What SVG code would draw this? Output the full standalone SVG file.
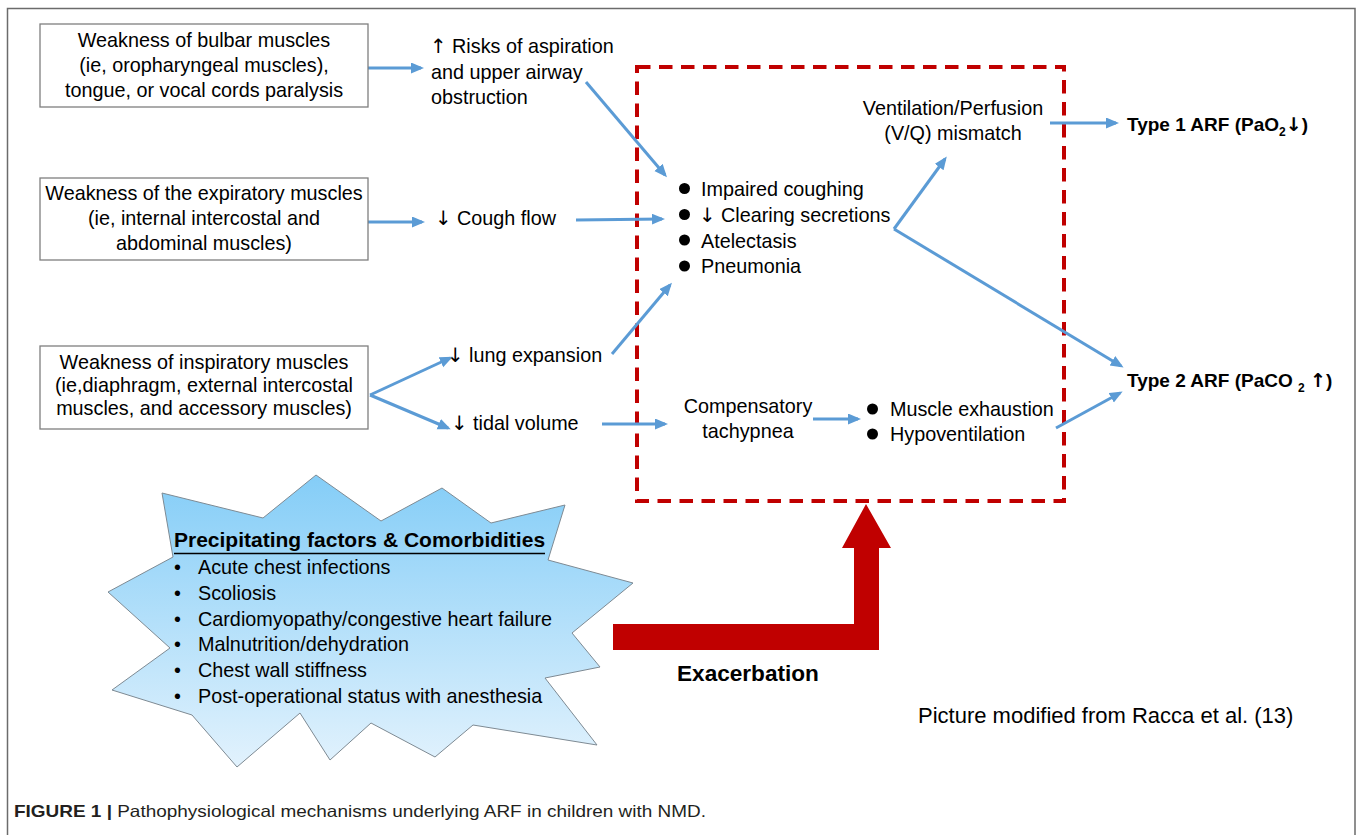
<svg xmlns="http://www.w3.org/2000/svg" width="1357" height="835" viewBox="0 0 1357 835">
<style>
text{font-family:"Liberation Sans",Arial,sans-serif;fill:#000}
.t{font-size:19.8px}
.c{text-anchor:middle}
.b{font-weight:bold}
.ar{font-family:"DejaVu Sans",sans-serif}
.box{fill:#fff;stroke:#7f7f7f;stroke-width:1.3}
.arr{fill:none;stroke:#5b9bd5;stroke-width:3;marker-end:url(#ah)}
</style>
<defs>
<marker id="ah" markerUnits="userSpaceOnUse" markerWidth="14" markerHeight="12" refX="10" refY="5.5" orient="auto">
<path d="M0,0 L13,5.5 L0,11 z" fill="#5b9bd5"/>
</marker>
<linearGradient id="sky" x1="0" y1="475" x2="0" y2="767" gradientUnits="userSpaceOnUse">
<stop offset="0" stop-color="#84cdf7"/>
<stop offset="1" stop-color="#e2f2fd"/>
</linearGradient>
</defs>
<rect width="1357" height="835" fill="#fff"/>
<path d="M7.5,840 V8.5 H1355 V840" fill="none" stroke="#6b6b6b" stroke-width="1.5"/>

<g id="exacerbation-box">
<rect x="637" y="67" width="427" height="434" fill="none" stroke="#c00000" stroke-width="4" stroke-dasharray="13.5 8.5"/>
</g>

<g id="connectors">
<line class="arr" x1="368" y1="68" x2="421" y2="68"/>
<line class="arr" x1="586" y1="82" x2="665" y2="175"/>
<line class="arr" x1="368" y1="222" x2="422" y2="222"/>
<line class="arr" x1="576" y1="220" x2="662" y2="219"/>
<line class="arr" x1="612" y1="354" x2="670" y2="285"/>
<line class="arr" x1="370" y1="395" x2="450" y2="358"/>
<line class="arr" x1="370" y1="395" x2="448" y2="428"/>
<line class="arr" x1="602" y1="424" x2="665" y2="424"/>
<line class="arr" x1="813" y1="419" x2="858" y2="419"/>
<line class="arr" x1="1056" y1="428" x2="1120" y2="393"/>
<line class="arr" x1="894" y1="229" x2="945" y2="159"/>
<line class="arr" x1="894" y1="229" x2="1121" y2="366"/>
<line class="arr" x1="1050" y1="123" x2="1116" y2="123"/>
</g>

<g id="bulbar">
<rect class="box" x="40" y="24" width="328" height="83"/>
<text class="t c" x="204" y="47">Weakness of bulbar muscles</text>
<text class="t c" x="204" y="72">(ie, oropharyngeal muscles),</text>
<text class="t c" x="204" y="97">tongue, or vocal cords paralysis</text>
</g>

<g id="expiratory">
<rect class="box" x="40" y="178" width="328" height="82"/>
<text class="t c" x="204" y="200">Weakness of the expiratory muscles</text>
<text class="t c" x="204" y="225">(ie, internal intercostal and</text>
<text class="t c" x="204" y="250">abdominal muscles)</text>
</g>

<g id="inspiratory">
<rect class="box" x="40" y="346" width="328" height="83"/>
<text class="t c" x="204" y="369">Weakness of inspiratory muscles</text>
<text class="t c" x="204" y="392">(ie,diaphragm, external intercostal</text>
<text class="t c" x="204" y="415">muscles, and accessory muscles)</text>
</g>

<g id="risks">
<text class="t" x="430" y="53"><tspan class="ar">↑</tspan> Risks of aspiration</text>
<text class="t" x="431" y="79">and upper airway</text>
<text class="t" x="431" y="104">obstruction</text>
</g>

<g id="cough">
<text class="t" x="435" y="225"><tspan class="ar">↓</tspan> Cough flow</text>
</g>

<g id="lung">
<text class="t" x="447" y="362"><tspan class="ar">↓</tspan> lung expansion</text>
</g>

<g id="tidal">
<text class="t" x="451" y="430"><tspan class="ar">↓</tspan> tidal volume</text>
</g>

<g id="airway-effects">
<circle cx="684.5" cy="188.5" r="5.5"/>
<circle cx="684.5" cy="214.5" r="5.5"/>
<circle cx="684.5" cy="240" r="5.5"/>
<circle cx="684.5" cy="266" r="5.5"/>
<text class="t" x="701" y="196">Impaired coughing</text>
<text class="t" x="699" y="222"><tspan class="ar">↓</tspan> Clearing secretions</text>
<text class="t" x="701" y="247.5">Atelectasis</text>
<text class="t" x="701" y="273">Pneumonia</text>
</g>

<g id="vq">
<text class="t c" x="953" y="115">Ventilation/Perfusion</text>
<text class="t c" x="953" y="140">(V/Q) mismatch</text>
</g>

<g id="tachypnea">
<text class="t c" x="748" y="413">Compensatory</text>
<text class="t c" x="748" y="438">tachypnea</text>
</g>

<g id="exhaustion">
<circle cx="872.5" cy="409" r="5.5"/>
<circle cx="872.5" cy="434" r="5.5"/>
<text class="t" x="890" y="416">Muscle exhaustion</text>
<text class="t" x="890" y="441">Hypoventilation</text>
</g>

<g id="type1">
<text class="b" x="1127" y="131" font-size="19">Type 1 ARF (PaO<tspan font-size="12" dy="5">2</tspan><tspan dy="-5" class="ar">↓</tspan>)</text>
</g>

<g id="type2">
<text class="b" x="1127" y="387" font-size="19">Type 2 ARF (PaCO <tspan font-size="12" dy="5">2</tspan><tspan dy="-5"> </tspan><tspan class="ar">↑</tspan>)</text>
</g>

<g id="precipitating">
<polygon points="316,475 381,521 442,488 491,523 565,505 548,560 633,583 572,633 600,667 545,678 597,745 473,725 435,757 371,723 330,760 300,713 237,767 192,715 112,690 170,648 108,592 173,557 162,493 263,518" fill="url(#sky)" stroke="#7e8a93" stroke-width="1"/>
<text class="b" x="174" y="547" font-size="21">Precipitating factors &amp; Comorbidities</text>
<line x1="174" y1="553.5" x2="545" y2="553.5" stroke="#000" stroke-width="1.5"/>
<text class="t" x="174" y="574">•</text><text class="t" x="198" y="574">Acute chest infections</text>
<text class="t" x="174" y="600">•</text><text class="t" x="198" y="600">Scoliosis</text>
<text class="t" x="174" y="625.5">•</text><text class="t" x="198" y="625.5">Cardiomyopathy/congestive heart failure</text>
<text class="t" x="174" y="651">•</text><text class="t" x="198" y="651">Malnutrition/dehydration</text>
<text class="t" x="174" y="677">•</text><text class="t" x="198" y="677">Chest wall stiffness</text>
<text class="t" x="174" y="702.5">•</text><text class="t" x="198" y="702.5">Post-operational status with anesthesia</text>
</g>

<g id="exacerbation-arrow">
<polygon points="613,624 854,624 854,548 842,548 866,504 891,548 879,548 879,650 613,650" fill="#c00000"/>
<text class="b" x="677" y="681" font-size="22.6">Exacerbation</text>
</g>

<g id="source">
<text x="918" y="723" font-size="22">Picture modified from Racca et al. (13)</text>
</g>

<g id="caption">
<text x="14" y="817" font-size="16.5" textLength="692" lengthAdjust="spacingAndGlyphs" style="fill:#231f20"><tspan font-weight="bold">FIGURE 1 |</tspan> Pathophysiological mechanisms underlying ARF in children with NMD.</text>
</g>
</svg>
